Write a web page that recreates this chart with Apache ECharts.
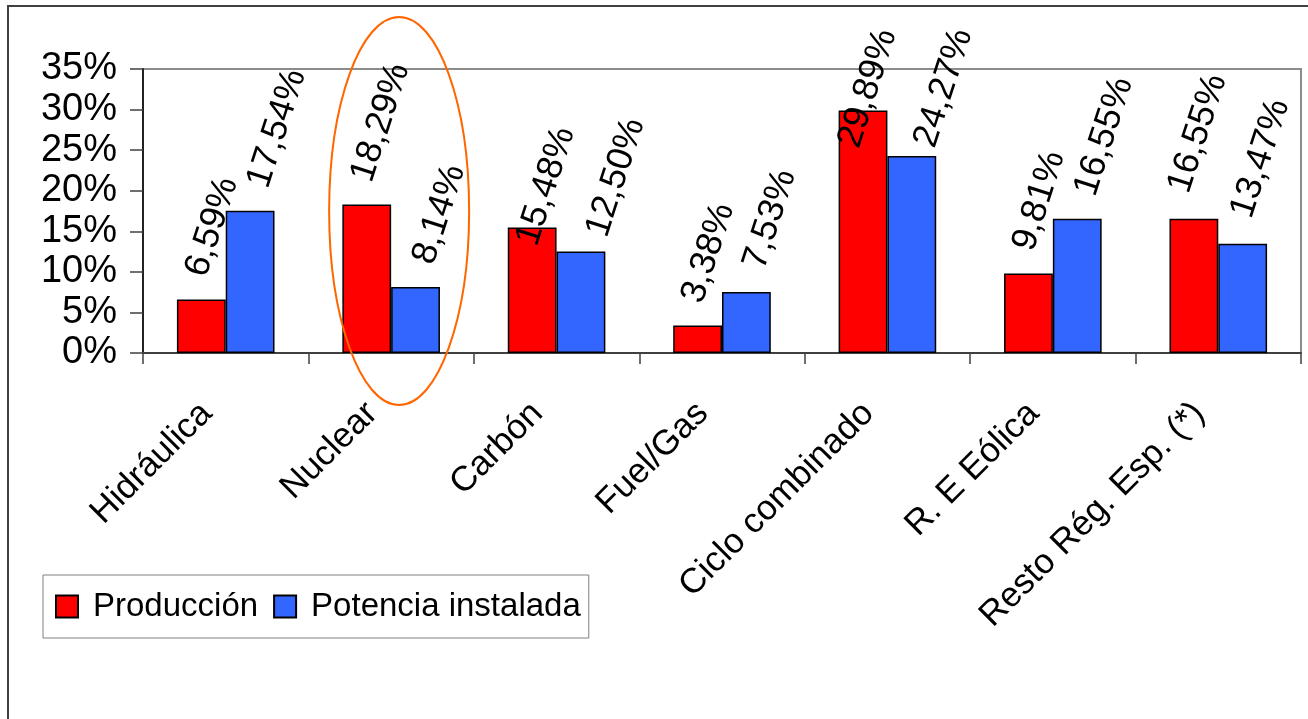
<!DOCTYPE html>
<html>
<head>
<meta charset="utf-8">
<script src="https://cdn.jsdelivr.net/npm/echarts@6/dist/echarts.min.js"></script>
<style>
html,body{margin:0;padding:0;background:#fff;}
#chart{width:1308px;height:719px;}
</style>
</head>
<body>
<div id="chart"></div>
<script>
const categories = ['Hidráulica', 'Nuclear', 'Carbón', 'Fuel/Gas', 'Ciclo combinado', 'R. E Eólica', 'Resto Rég. Esp. (*)'];
const seriesNames = ['Producción', 'Potencia instalada'];
const produccion = [6.59, 18.29, 15.48, 3.38, 29.89, 9.81, 16.55];
const potencia = [17.54, 8.14, 12.50, 7.53, 24.27, 16.55, 13.47];
const yMin = 0, yMax = 35, yStep = 5;

const FONT = '"Liberation Sans", Arial, sans-serif';
const fmt = v => v.toFixed(2).replace('.', ',') + '%';

const LABEL_ROT = 72;
// screen-space label shifts (layout only)
const seriesLabelShift = [[-5, 0], [8, 0]];
const labelNudge = {
  '0-2': [0, 41],
  '1-2': [8, 8],
  '0-4': [-9, 60],
  '1-4': [5, 14],
  '0-6': [-10, -3],
  '1-6': [-9, -3]
};
// convert screen offset to the label's rotated local frame
function toLocal(dx, dy) {
  const t = LABEL_ROT * Math.PI / 180;
  return [dx * Math.cos(t) - dy * Math.sin(t), dx * Math.sin(t) + dy * Math.cos(t)];
}

function makeData(values, si) {
  return values.map((v, i) => {
    const n = labelNudge[si + '-' + i] || [0, 0];
    const s = seriesLabelShift[si];
    return { value: v, label: { offset: toLocal(s[0] + n[0], s[1] + n[1]) } };
  });
}

const labelStyle = {
  show: true,
  position: 'top',
  distance: 24,
  rotate: LABEL_ROT,
  align: 'left',
  verticalAlign: 'middle',
  fontFamily: FONT,
  fontSize: 36,
  color: '#000',
  formatter: p => fmt(p.value)
};

const chart = echarts.init(document.getElementById('chart'), null, { renderer: 'canvas' });
const option = {
  animation: false,
  backgroundColor: '#fff',
  textStyle: { fontFamily: FONT },
  grid: {
    left: 143, right: 7, top: 69, bottom: 366,
    show: true, borderColor: '#8c8c8c', borderWidth: 2, backgroundColor: 'transparent'
  },
  legend: {
    left: 43, top: 575,
    orient: 'horizontal',
    itemWidth: 22, itemHeight: 22, itemGap: 15,
    padding: [15, 8, 15, 12],
    borderColor: '#808080', borderWidth: 1,
    icon: 'rect',
    textStyle: { fontFamily: FONT, fontSize: 33, color: '#000', padding: [0, 0, 0, 10] },
    data: seriesNames
  },
  xAxis: {
    type: 'category',
    data: categories,
    boundaryGap: true,
    axisLine: { show: true, lineStyle: { color: '#404040', width: 2 } },
    axisTick: { show: true, length: 11, lineStyle: { color: '#404040', width: 1.5 } },
    axisLabel: {
      rotate: 45, margin: 36, interval: 0,
      padding: [0, 27, 0, 0],
      fontFamily: FONT, fontSize: 35, color: '#000'
    },
    splitLine: { show: false }
  },
  yAxis: {
    type: 'value',
    min: yMin, max: yMax, interval: yStep,
    axisLine: { show: true, lineStyle: { color: '#222', width: 2 } },
    axisTick: { show: true, length: 13, lineStyle: { color: '#404040', width: 1.5 } },
    axisLabel: {
      margin: 26, fontFamily: FONT, fontSize: 38, color: '#000',
      formatter: v => v + '%'
    },
    splitLine: { show: false }
  },
  series: [
    {
      name: seriesNames[0], type: 'bar',
      data: makeData(produccion, 0),
      barGap: '0%', barCategoryGap: '41%',
      itemStyle: { color: '#FF0000', borderColor: '#000', borderWidth: 1.5 },
      label: labelStyle
    },
    {
      name: seriesNames[1], type: 'bar',
      data: makeData(potencia, 1),
      barGap: '0%', barCategoryGap: '41%',
      itemStyle: { color: '#3366FF', borderColor: '#000', borderWidth: 1.5 },
      label: labelStyle
    }
  ]
};
chart.setOption(option);

// annotation ellipse around the Nuclear group, and outer frame
const c = chart.convertToPixel({ xAxisIndex: 0, yAxisIndex: 0 }, ['Nuclear', 17.5]);
chart.setOption({
  graphic: [
    {
      type: 'rect', z: -1, silent: true,
      shape: { x: 8, y: 6, width: 1400, height: 800 },
      style: { fill: 'none', stroke: '#404040', lineWidth: 2 }
    },
    {
      type: 'ellipse', z: 100, silent: true,
      shape: { cx: c[0] + 8, cy: c[1], rx: 70, ry: 194 },
      style: { fill: 'none', stroke: '#FF6600', lineWidth: 2 }
    }
  ]
});
</script>
</body>
</html>
